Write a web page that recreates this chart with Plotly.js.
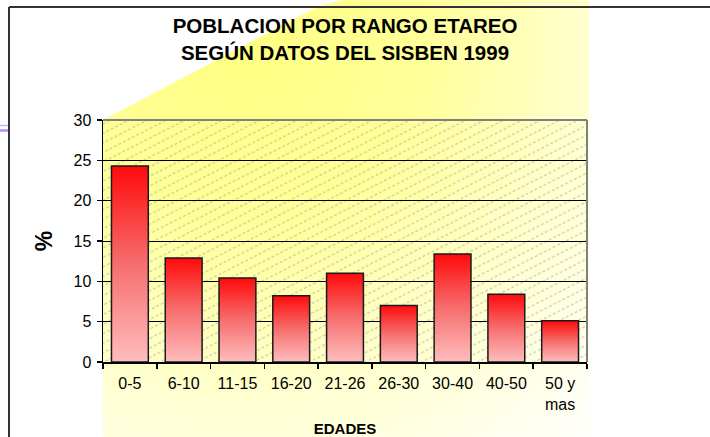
<!DOCTYPE html>
<html>
<head>
<meta charset="utf-8">
<script src="https://cdn.plot.ly/plotly-3.0.1.min.js"></script>
<style>
html,body{margin:0;padding:0;background:#fff;overflow:hidden}
#chart{width:710px;height:437px}
</style>
</head>
<body>
<svg width="0" height="0" style="position:absolute">
  <defs>
    <linearGradient id="barGrad" x1="0" y1="0" x2="0" y2="1">
      <stop offset="0" stop-color="#ff0a0a"/>
      <stop offset="0.5" stop-color="#f66e6e"/>
      <stop offset="1" stop-color="#ffbdbd"/>
    </linearGradient>
    <radialGradient id="beamGrad" gradientUnits="userSpaceOnUse" cx="240" cy="40" r="520">
      <stop offset="0" stop-color="#ffff80"/>
      <stop offset="0.35" stop-color="#ffff99"/>
      <stop offset="0.7" stop-color="#ffffd2"/>
      <stop offset="1" stop-color="#fffffa"/>
    </radialGradient>
    <pattern id="hatch" patternUnits="userSpaceOnUse" width="10" height="8.5" patternTransform="rotate(-27)">
      <line x1="0" y1="4" x2="10" y2="4" stroke="#a0a0a0" stroke-width="0.7" stroke-dasharray="3 2"/>
    </pattern>
  </defs>
</svg>
<div id="chart"></div>
<script>
// ---- data ----
const categories = ['0-5', '6-10', '11-15', '16-20', '21-26', '26-30', '30-40', '40-50', '50 y<br>mas'];
const percentages = [24.3, 12.9, 10.4, 8.2, 11.0, 7.0, 13.4, 8.4, 5.1];
const yTickValues = [0, 5, 10, 15, 20, 25, 30];
const chartTitle = 'POBLACION POR RANGO ETAREO<br>SEGÚN DATOS DEL SISBEN 1999';
const xTitle = 'EDADES';
const yTitle = '%';

// ---- geometry ----
const W = 710, H = 437;
const M = {l: 103, r: 123, t: 120, b: 75};
const PW = W - M.l - M.r, PH = H - M.t - M.b;
const px = x => (x - M.l) / PW;
const py = y => (H - M.b - y) / PH;

const FONT = 'Liberation Sans, Arial, Helvetica, sans-serif';

const beamPath = 'M ' + [[103,120],[317,7],[342,0],[589,0],[589,437],[103,437]]
  .map(p => px(p[0]) + ',' + py(p[1])).join(' L ') + ' Z';

const shapes = [
  {type:'path', xref:'paper', yref:'paper', path: beamPath, fillcolor:'#ffff99', line:{width:0}, layer:'below'},
  {type:'rect', xref:'paper', yref:'paper', x0:0, x1:1, y0:0, y1:1, fillcolor:'#fffff0', line:{width:0}, layer:'below'},
  {type:'line', xref:'paper', yref:'paper', x0:0, x1:1, y0:1, y1:1, line:{color:'#808080', width:2}, layer:'above'},
  {type:'line', xref:'paper', yref:'paper', x0:1, x1:1, y0:0, y1:1, line:{color:'#808080', width:2}, layer:'above'},
  {type:'line', xref:'paper', yref:'paper', x0:px(9), x1:px(9), y0:py(437), y1:py(7), line:{color:'#333', width:2}, layer:'above'},
  {type:'line', xref:'paper', yref:'paper', x0:px(9), x1:px(710), y0:py(7), y1:py(7), line:{color:'#333', width:2}, layer:'above'},
  {type:'line', xref:'paper', yref:'paper', x0:px(0), x1:px(8), y0:py(125.5), y1:py(125.5), line:{color:'#cdb4f4', width:1.5}, layer:'above'},
  {type:'line', xref:'paper', yref:'paper', x0:px(0), x1:px(8), y0:py(130.5), y1:py(130.5), line:{color:'#b690f0', width:2.5}, layer:'above'}
];

const data = [{
  type: 'bar',
  x: categories,
  y: percentages,
  marker: {color: '#f66e6e', line: {color: '#1a1a1a', width: 1.5}},
  hoverinfo: 'skip'
}];

const layout = {
  width: W, height: H,
  margin: M,
  paper_bgcolor: '#ffffff',
  plot_bgcolor: 'rgba(0,0,0,0)',
  font: {family: FONT, color: '#000', size: 16},
  showlegend: false,
  bargap: 0.315,
  title: {
    text: chartTitle,
    font: {family: FONT, size: 20.5, weight: 'bold', color: '#000'},
    x: 345 / W, xanchor: 'center', xref: 'container',
    y: 1 - 33 / H, yanchor: 'top', yref: 'container'
  },
  xaxis: {
    type: 'category',
    tickson: 'boundaries',
    ticks: 'outside', ticklen: 5, tickwidth: 1.5, tickcolor: '#000',
    ticklabelstandoff: 6,
    showline: true, linecolor: '#000', linewidth: 1.5,
    showgrid: false, zeroline: false,
    tickfont: {family: FONT, size: 16, color: '#000'},
    title: {text: xTitle, font: {family: FONT, size: 15, weight: 'bold', color: '#000'}, standoff: 38},
    fixedrange: true
  },
  yaxis: {
    range: [0, 30],
    tickvals: yTickValues,
    ticks: 'outside', ticklen: 5, tickwidth: 1.5, tickcolor: '#000',
    ticklabelstandoff: 2,
    showline: true, linecolor: '#000', linewidth: 1.5,
    showgrid: true, gridcolor: '#000', gridwidth: 1,
    zeroline: false,
    tickfont: {family: FONT, size: 16, color: '#000'},
    title: {text: yTitle, font: {family: FONT, size: 23, weight: 'bold', color: '#000'}, standoff: 14},
    fixedrange: true
  },
  shapes: shapes
};

Plotly.newPlot('chart', data, layout, {staticPlot: true, displayModeBar: false}).then(gd => {
  gd.querySelectorAll('.barlayer .point path').forEach(p => { p.style.fill = 'url(#barGrad)'; });
  const beam = gd.querySelector('path[data-index="0"]');
  if (beam) beam.style.fill = 'url(#beamGrad)';
  const hatch = gd.querySelector('path[data-index="1"]');
  if (hatch) { hatch.style.fill = 'url(#hatch)'; hatch.style.fillOpacity = 1; }
});
</script>
</body>
</html>
